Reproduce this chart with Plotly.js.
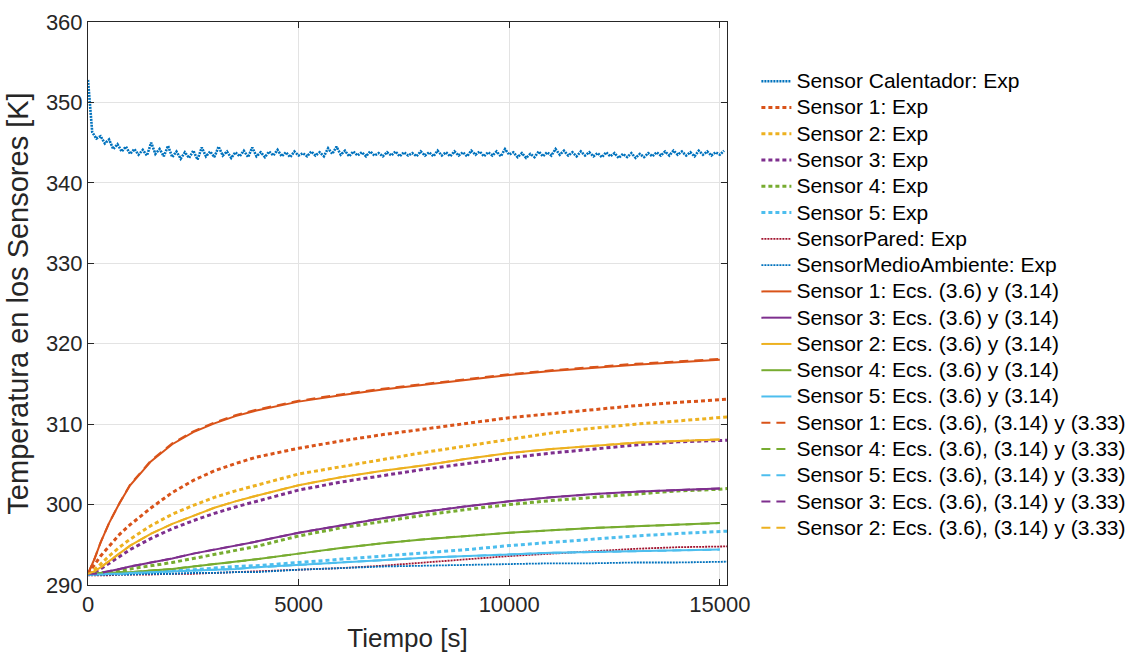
<!DOCTYPE html>
<html>
<head>
<meta charset="utf-8">
<script src="https://cdn.plot.ly/plotly-3.0.1.min.js"></script>
<style>
html,body{margin:0;padding:0;background:#fff;}
#chart{width:1131px;height:658px;}
</style>
</head>
<body>
<div id="chart"></div>
<script>
// ---------- DATA ----------
// Heater sensor, sampled every 100 s starting at t = 0
const calentadorT0 = 0;
const calentadorDt = 100;
const calentadorExp = [
352.8,346.3,345.5,345.8,344.9,345.4,344.2,344.8,343.9,344.5,
343.6,344.2,343.5,344.1,343.4,345.0,343.6,344.2,343.3,344.6,
343.2,343.9,343.0,343.8,343.1,344.0,342.9,344.4,343.3,343.9,
343.2,344.5,343.4,343.9,343.1,343.8,343.3,344.0,343.2,344.4,
343.3,343.8,343.2,343.9,343.4,344.1,343.3,343.8,343.2,343.9,
343.4,343.7,343.3,343.9,343.4,343.8,343.3,344.3,343.6,344.5,
343.5,344.0,343.3,343.9,343.4,343.8,343.3,343.9,343.4,343.7,
343.3,343.8,343.4,343.9,343.3,343.8,343.4,343.7,343.3,343.9,
343.4,343.8,343.3,344.0,343.4,343.8,343.3,343.9,343.4,343.8,
343.3,344.0,343.5,343.9,343.3,343.8,343.4,343.9,343.3,344.2,
343.5,343.8,343.2,343.7,343.1,343.6,343.2,343.9,343.3,343.8,
343.4,344.2,343.5,344.0,343.4,343.8,343.3,343.9,343.4,343.8,
343.3,343.7,343.2,343.8,343.3,343.7,343.1,343.6,343.2,343.7,
343.1,343.6,343.2,343.7,343.3,343.8,343.4,343.9,343.4,344.0,
343.5,343.9,343.4,343.8,343.3,344.0,343.5,343.9,343.4,343.8,
343.5,344.0
];

const tExp = [0,150,300,500,750,1000,1500,2000,2500,3000,3500,4000,5000,6000,7000,8000,9000,10000,11000,12000,13000,14000,15000,15200];
const s1Exp    = [291.4,292.5,293.6,294.8,296.3,297.5,299.6,301.5,303.0,304.2,305.1,305.9,307.0,307.9,308.7,309.4,310.1,310.8,311.3,311.8,312.3,312.7,313.0,313.1];
const s2Exp    = [291.4,291.9,292.6,293.6,294.7,295.7,297.4,298.8,299.9,300.9,301.7,302.4,303.8,304.7,305.6,306.5,307.3,308.1,308.9,309.5,310.0,310.4,310.8,310.9];
const s3Exp    = [291.4,291.6,292.0,292.7,293.6,294.4,295.8,297.0,298.0,298.9,299.7,300.4,301.8,302.8,303.6,304.4,305.1,305.8,306.4,306.9,307.4,307.8,308.0,308.0];
const s4Exp    = [291.4,291.4,291.5,291.6,291.8,292.0,292.4,292.8,293.3,293.8,294.3,294.8,296.1,297.1,297.9,298.7,299.4,300.0,300.5,300.9,301.3,301.7,301.9,302.0];
const s5Exp    = [291.3,291.3,291.3,291.4,291.4,291.5,291.6,291.8,291.9,292.1,292.3,292.4,292.8,293.2,293.6,294.0,294.4,294.9,295.3,295.7,296.1,296.4,296.6,296.7];
const paredExp = [291.2,291.2,291.2,291.2,291.3,291.3,291.3,291.4,291.4,291.5,291.6,291.7,291.9,292.1,292.4,292.8,293.2,293.6,293.9,294.2,294.5,294.7,294.8,294.8];
const medioExp = [291.3,291.3,291.3,291.3,291.3,291.3,291.4,291.4,291.5,291.5,291.6,291.6,291.9,292.1,292.3,292.4,292.5,292.6,292.7,292.7,292.8,292.8,292.9,292.9];

const tMod = [0,150,300,500,750,1000,1500,2000,2500,3000,3500,4000,5000,6000,7000,8000,9000,10000,11000,12000,13000,14000,15000];
// Ecs. (3.6) y (3.14)
const s1Mod = [291.4,293.2,295.3,297.7,300.2,302.4,305.4,307.5,309.0,310.1,311.0,311.7,312.8,313.6,314.3,314.9,315.5,316.1,316.6,317.0,317.4,317.7,318.0];
const s3Mod = [291.4,291.4,291.5,291.7,292.0,292.3,292.8,293.3,293.9,294.4,294.9,295.4,296.5,297.4,298.3,299.1,299.8,300.4,300.9,301.3,301.6,301.8,302.0];
const s2Mod = [291.4,291.7,292.2,293.0,294.0,294.9,296.4,297.6,298.6,299.6,300.4,301.1,302.4,303.4,304.2,304.9,305.7,306.4,306.9,307.3,307.7,307.9,308.1];
const s4Mod = [291.4,291.4,291.5,291.5,291.6,291.6,291.8,292.0,292.3,292.6,292.9,293.2,293.9,294.6,295.2,295.7,296.1,296.5,296.8,297.1,297.3,297.5,297.7];
const s5Mod = [291.3,291.3,291.3,291.4,291.4,291.5,291.6,291.7,291.8,291.9,292.0,292.2,292.5,292.8,293.1,293.4,293.6,293.8,294.0,294.1,294.2,294.3,294.4];
// Ecs. (3.6), (3.14) y (3.33)
const s1Mod2 = [291.4,293.2,295.3,297.7,300.2,302.5,305.5,307.6,309.1,310.2,311.1,311.8,312.9,313.7,314.4,315.0,315.6,316.2,316.7,317.1,317.5,317.8,318.1];
const s4Mod2 = [291.4,291.4,291.5,291.5,291.6,291.6,291.8,292.0,292.3,292.6,292.9,293.2,293.9,294.6,295.2,295.7,296.1,296.5,296.8,297.1,297.3,297.5,297.7];
const s5Mod2 = [291.3,291.3,291.3,291.4,291.4,291.5,291.6,291.7,291.8,291.9,292.0,292.2,292.5,292.8,293.1,293.4,293.6,293.8,294.0,294.1,294.2,294.3,294.4];
const s3Mod2 = [291.4,291.4,291.5,291.7,292.0,292.3,292.8,293.3,293.9,294.4,294.9,295.4,296.5,297.4,298.3,299.1,299.8,300.4,300.9,301.3,301.6,301.8,302.0];
const s2Mod2 = [291.4,291.7,292.2,293.0,294.0,294.9,296.4,297.6,298.6,299.6,300.4,301.1,302.4,303.4,304.2,304.9,305.7,306.4,306.9,307.3,307.7,307.9,308.1];

const xTicks = [0,5000,10000,15000];
const yTicks = [290,300,310,320,330,340,350,360];

// ---------- STYLE ----------
const C = {blue:'#0072BD', orange:'#D95319', yellow:'#EDB120', purple:'#7E2F8E', green:'#77AC30', cyan:'#4DBEEE', red:'#A2142F'};
const LF = 21; // displayed legend text size
function nm(s){ return '<span style="font-size:'+LF+'px">'+s+'</span>'; }
let g = 0;
function tr(x, y, name, color, width, dash, extra){
  const t = {x:x, y:y, name:nm(name), type:'scatter', mode:'lines',
    line:{color:color, width:width, dash:dash}, legendgroup:'g'+(g++), hoverinfo:'skip'};
  return Object.assign(t, extra||{});
}

const traces = [
  tr(null, calentadorExp, 'Sensor Calentador: Exp', C.blue, 2.6, '2px,1px', {x0:calentadorT0, dx:calentadorDt}),
  tr(tExp, s1Exp, 'Sensor 1: Exp', C.orange, 3, '4px,3px'),
  tr(tExp, s2Exp, 'Sensor 2: Exp', C.yellow, 3, '4px,3px'),
  tr(tExp, s3Exp, 'Sensor 3: Exp', C.purple, 3, '4px,3px'),
  tr(tExp, s4Exp, 'Sensor 4: Exp', C.green, 3, '4px,3px'),
  tr(tExp, s5Exp, 'Sensor 5: Exp', C.cyan, 3, '4px,3px'),
  tr(tExp, paredExp, 'SensorPared: Exp', C.red, 1.8, '2px,1px'),
  tr(tExp, medioExp, 'SensorMedioAmbiente: Exp', C.blue, 1.8, '2px,1px'),
  tr(tMod, s1Mod, 'Sensor 1: Ecs. (3.6) y (3.14)', C.orange, 2, 'solid'),
  tr(tMod, s3Mod, 'Sensor 3: Ecs. (3.6) y (3.14)', C.purple, 2, 'solid'),
  tr(tMod, s2Mod, 'Sensor 2: Ecs. (3.6) y (3.14)', C.yellow, 2, 'solid'),
  tr(tMod, s4Mod, 'Sensor 4: Ecs. (3.6) y (3.14)', C.green, 2, 'solid'),
  tr(tMod, s5Mod, 'Sensor 5: Ecs. (3.6) y (3.14)', C.cyan, 2, 'solid'),
  tr(tMod, s1Mod2, 'Sensor 1: Ecs. (3.6), (3.14) y (3.33)', C.orange, 2, '9px,6px'),
  tr(tMod, s4Mod2, 'Sensor 4: Ecs. (3.6), (3.14) y (3.33)', C.green, 2, '9px,6px'),
  tr(tMod, s5Mod2, 'Sensor 5: Ecs. (3.6), (3.14) y (3.33)', C.cyan, 2, '9px,6px'),
  tr(tMod, s3Mod2, 'Sensor 3: Ecs. (3.6), (3.14) y (3.33)', C.purple, 2, '9px,6px'),
  tr(tMod, s2Mod2, 'Sensor 2: Ecs. (3.6), (3.14) y (3.33)', C.yellow, 2, '9px,6px')
];

const axisCommon = {
  showline:true, linecolor:'#262626', linewidth:1, mirror:'ticks',
  ticks:'inside', ticklen:6, tickwidth:1, tickcolor:'#262626',
  showgrid:true, gridcolor:'#e3e3e3', gridwidth:1, zeroline:false,
  tickfont:{family:'Liberation Sans, Arial, sans-serif', size:22, color:'#262626'}
};

const layout = {
  width:1131, height:658,
  margin:{l:88, r:404, t:22, b:73, autoexpand:false},
  paper_bgcolor:'#ffffff', plot_bgcolor:'#ffffff',
  font:{family:'Liberation Sans, Arial, sans-serif', color:'#000000'},
  showlegend:true,
  legend:{x:1.046, xanchor:'left', y:0.927, yanchor:'top', traceorder:'grouped', tracegroupgap:0,
    font:{family:'Liberation Sans, Arial, sans-serif', size:17.9, color:'#000000'},
    bgcolor:'rgba(255,255,255,0)', borderwidth:0, itemwidth:30},
  xaxis:Object.assign({}, axisCommon, {
    range:[0,15170], tickmode:'array', tickvals:xTicks, ticktext:xTicks.map(String),
    title:{text:'Tiempo [s]', font:{family:'Liberation Sans, Arial, sans-serif', size:26, color:'#262626'}, standoff:12}
  }),
  yaxis:Object.assign({}, axisCommon, {
    range:[290,360], tickmode:'array', tickvals:yTicks, ticktext:yTicks.map(String),
    title:{text:'Temperatura en los Sensores [K]', font:{family:'Liberation Sans, Arial, sans-serif', size:29, color:'#262626'}, standoff:8}
  })
};

Plotly.newPlot('chart', traces, layout, {staticPlot:true, displayModeBar:false});
</script>
</body>
</html>
